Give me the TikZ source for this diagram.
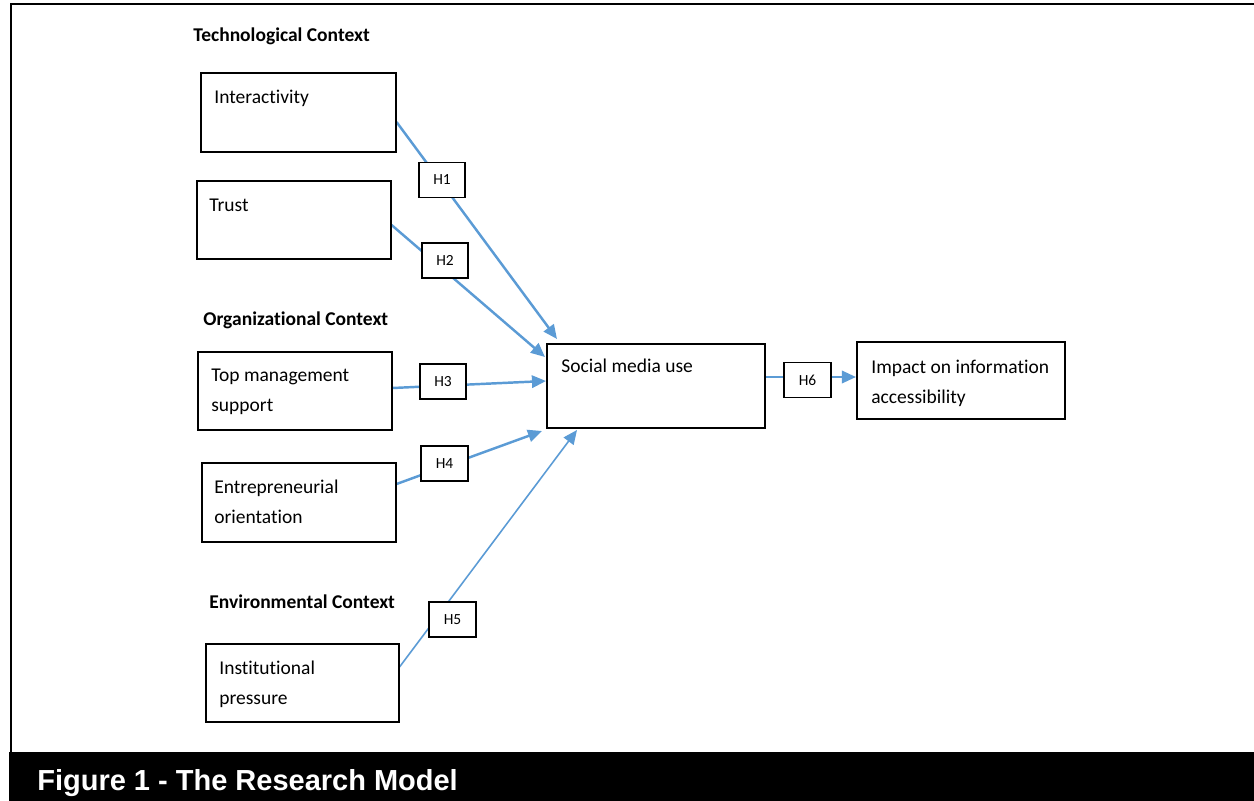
\documentclass[tikz,border=0pt]{standalone}
\usepackage{fontspec}
\setmainfont{Carlito}[Ligatures=NoCommon]
\newfontfamily\capfont{Liberation Sans}
\usetikzlibrary{arrows.meta,calc}
\pgfdeclarelayer{bg}
\pgfsetlayers{bg,main}
\definecolor{linkblue}{HTML}{5B9BD5}
\tikzset{
  box/.style={draw=black, line width=0.9pt, rectangle, anchor=north west, inner sep=0pt},
  hbox/.style={draw=black, line width=0.9pt, fill=white, rectangle, inner sep=0pt,
    minimum width=0.93cm, minimum height=0.70cm, font=\fontsize{8.8}{10}\selectfont},
  txt/.style={anchor=base west, inner sep=0pt, align=left, font=\fontsize{11.1}{17}\selectfont},
  head/.style={anchor=base west, inner sep=0pt, font=\bfseries\fontsize{11.1}{13}\selectfont},
  link/.style={draw=linkblue, line width=1.4pt, -{Triangle[length=8pt,width=7pt]}},
  thinlink/.style={draw=linkblue, line width=0.9pt, -{Triangle[length=8pt,width=7pt]}}
}
\begin{document}
\begin{tikzpicture}[x=0.02cm,y=-0.02cm]
\useasboundingbox (0,0) rectangle (1254,801);
% frame
\draw[line width=1.4pt] (10,4) -- (1254,4);
\draw[line width=1.4pt] (11,4) -- (11,752);
\fill[black] (9,752) rectangle (1254,801);
\node[anchor=base west, inner sep=0pt, text=white, font=\capfont\bfseries\fontsize{16.5}{18}\selectfont] (cap) at (37,790) {Figure 1 - The Research Model};

% headings
\node[head] (tech) at (193,41) {Technological Context};
\node[head] (org) at (203,325) {Organizational Context};
\node[head] (env) at (209,608) {Environmental Context};

% boxes
\node[box, minimum width=3.90cm, minimum height=1.58cm] (inter) at (200,72) {};
\node[box, minimum width=3.88cm, minimum height=1.56cm] (trust) at (196,180) {};
\node[box, minimum width=3.88cm, minimum height=1.56cm] (tms) at (197,351) {};
\node[box, minimum width=3.88cm, minimum height=1.58cm] (eo) at (201,462) {};
\node[box, minimum width=3.86cm, minimum height=1.56cm] (ip) at (205,643) {};
\node[box, minimum width=4.36cm, minimum height=1.68cm] (soc) at (546,343) {};
\node[box, minimum width=4.16cm, minimum height=1.54cm] (imp) at (856,341) {};

% box texts (base = baseline of last line)
\node[txt] (inter-t) at (214,103) {Interactivity};
\node[txt] (trust-t) at (209,211) {Trust};
\node[txt] (tms-t) at (211,411) {Top management\\support};
\node[txt] (eo-t) at (214,523) {Entrepreneurial\\orientation};
\node[txt] (ip-t) at (219,704) {Institutional\\pressure};
\node[txt] (soc-t) at (561,372) {Social media use};
\node[txt] (imp-t) at (871,403) {Impact on information\\accessibility};

% hypothesis labels
\node[hbox] (h1) at (442,180) {H1};
\node[hbox] (h2) at (445,260.5) {H2};
\node[hbox] (h3) at (443,381.5) {H3};
\node[hbox] (h4) at (444.5,463.5) {H4};
\node[hbox] (h5) at (452.5,619.5) {H5};
\node[hbox] (h6) at (807.5,380) {H6};

% arrow tips
\coordinate (t1) at (557,339);
\coordinate (t2) at (545,357);
\coordinate (t3) at (546,381);
\coordinate (t4) at (542,431);
\coordinate (t5) at (577,430);
\coordinate (t6) at (856,377);

\begin{pgfonlayer}{bg}
\draw[link] ($(inter.north east)+(0,50)$) -- (t1);
\draw[link] ($(trust.north east)+(0,45)$) -- (t2);
\draw[link] ($(tms.north east)+(0,37)$) -- (t3);
\draw[link] ($(eo.north east)+(0,22)$) -- (t4);
\draw[thinlink] ($(ip.north east)+(0,24)$) -- (t5);
\draw[link] ($(soc.north east)+(0,34)$) -- (t6);
\end{pgfonlayer}
\end{tikzpicture}
\end{document}
